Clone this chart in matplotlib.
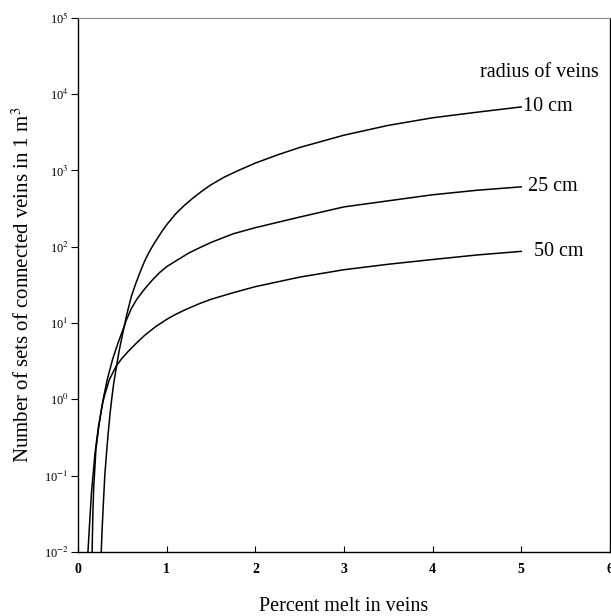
import math
import matplotlib
matplotlib.use("Agg")
import matplotlib.pyplot as plt
from matplotlib.ticker import FixedLocator, FuncFormatter

plt.rcParams["font.family"] = ["Liberation Serif", "DejaVu Serif"]
plt.rcParams["mathtext.fontset"] = "stix"

# values (percent melt, number of sets)
x_10 = [0.26, 0.27, 0.28, 0.30, 0.32, 0.34, 0.36, 0.38, 0.40, 0.43, 0.46, 0.50, 0.55, 0.60,
        0.65, 0.70, 0.75, 0.80, 0.85, 0.90, 0.95, 1.0, 1.1, 1.2, 1.3, 1.4, 1.5, 1.65, 1.8,
        2.0, 2.25, 2.5, 3.0, 3.5, 4.0, 4.5, 5.0]
y_10 = [0.01, 0.02, 0.035, 0.1, 0.2, 0.38, 0.66, 1.05, 1.6, 2.6, 4.2, 7.1, 13.2, 22.4,
        33, 47, 65, 85, 107, 132, 162, 195, 270, 350, 440, 540, 650, 820, 990,
        1250, 1600, 2000, 2900, 3900, 4900, 5800, 6800]

x_25 = [0.157, 0.165, 0.175, 0.20, 0.23, 0.26, 0.29, 0.33, 0.39, 0.45, 0.50, 0.544, 0.60,
        0.66, 0.75, 0.84, 0.92, 1.0, 1.11, 1.25, 1.37, 1.5, 1.75, 2.0, 2.5, 3.0, 3.5, 4.0,
        4.5, 5.0]
y_25 = [0.01, 0.03, 0.07, 0.22, 0.42, 0.71, 1.12, 1.86, 3.4, 5.5, 7.9, 11, 15.5,
        20.4, 28, 37, 46, 55, 66, 83, 97, 114, 148, 178, 245, 333, 400, 480,
        550, 610]

x_50 = [0.11, 0.13, 0.15, 0.19, 0.23, 0.28, 0.35, 0.43, 0.49, 0.56, 0.66, 0.75, 0.87,
        1.0, 1.1, 1.2, 1.37, 1.5, 1.75, 2.0, 2.5, 3.0, 3.5, 4.0, 4.5, 5.0]
y_50 = [0.01, 0.025, 0.06, 0.2, 0.45, 0.95, 1.8, 2.75, 3.4, 4.2, 5.5, 6.9, 8.9,
        11.2, 13, 14.8, 18, 20.5, 25, 30, 40, 50, 59, 68, 78, 87]

labels = ["10 cm", "25 cm", "50 cm"]

fig = plt.figure(figsize=(6.11, 6.16), dpi=100)
ax = fig.add_axes([0.128, 0.104, 0.870, 0.867])

for xs, ys in [(x_10, y_10), (x_25, y_25), (x_50, y_50)]:
    ax.plot(xs, ys, color="black", lw=1.1)

ax.set_yscale("log")
ax.set_xlim(0, 6)
ax.set_ylim(1e-2, 1e5)

ax.text(5.02, y_10[-1], labels[0], fontsize=14.5, va="center", ha="left")
ax.text(5.08, y_25[-1], labels[1], fontsize=14.5, va="center", ha="left")
ax.text(5.14, y_50[-1], labels[2], fontsize=14.5, va="center", ha="left")
ax.text(4.53, 1.9e4, "radius of veins", fontsize=14.5, va="center", ha="left")

ax.yaxis.set_major_locator(FixedLocator([10.0 ** k for k in range(-2, 6)]))
ax.yaxis.set_minor_locator(FixedLocator([]))
ax.yaxis.set_major_formatter(FuncFormatter(lambda v, p: "10$^{%d}$" % round(math.log10(v))))
ax.set_xticks([0, 1, 2, 3, 4, 5, 6])

ax.tick_params(axis="y", direction="out", length=5, width=0.8, labelsize=9, pad=2)
ax.tick_params(axis="x", direction="in", length=4, width=0.8, labelsize=10, pad=8)
for lab in ax.get_xticklabels():
    lab.set_fontweight("bold")

ax.spines["top"].set_color("#888888")
ax.spines["top"].set_linestyle((0, (3, 1)))
ax.spines["top"].set_linewidth(0.8)
for s in ["left", "right", "bottom"]:
    ax.spines[s].set_linewidth(1.0)

ax.set_xlabel("Percent melt in veins", fontsize=14.5, labelpad=15)
ax.set_ylabel("Number of sets of connected veins in 1 m$^3$", fontsize=15, labelpad=7)

fig.savefig("out.png", dpi=100)
